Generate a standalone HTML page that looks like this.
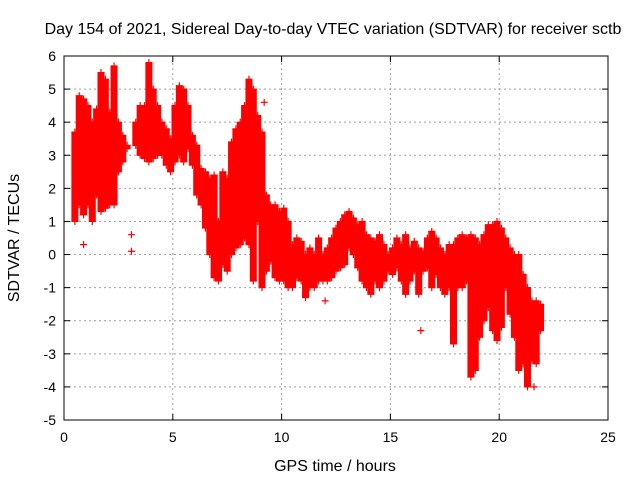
<!DOCTYPE html>
<html><head><meta charset="utf-8"><style>
body{margin:0;background:#fff}
svg text{font-family:"Liberation Sans",sans-serif;font-size:14px;fill:#000}
svg text.big{font-size:16px}
</style></head><body>
<svg id="chart" width="640" height="480" viewBox="0 0 640 480" xmlns="http://www.w3.org/2000/svg">
<text class="big" x="333" y="34" text-anchor="middle">Day 154 of 2021, Sidereal Day-to-day VTEC variation (SDTVAR) for receiver sctb</text>
<text class="big" x="335" y="471" text-anchor="middle">GPS time / hours</text>
<text class="big" transform="translate(19,238) rotate(-90)" text-anchor="middle">SDTVAR / TECUs</text>
<g id="grid"></g>
<g id="marks"></g>
<g id="axes"></g>
</svg>
<script>
const xTicks=[0,5,10,15,20,25];
const yTicks=[-5,-4,-3,-2,-1,0,1,2,3,4,5,6];
const hours=[0.5,0.7,0.9,1.1,1.3,1.5,1.7,1.9,2.1,2.3,2.5,2.7,2.9,3.3,3.5,3.7,3.9,4.1,4.3,4.5,4.7,4.9,5.1,5.3,5.5,5.7,5.9,6.1,6.3,6.5,6.7,6.9,7.1,7.3,7.5,7.7,7.9,8.1,8.3,8.5,8.7,8.9,9.1,9.3,9.5,9.7,9.9,10.1,10.3,10.5,10.7,10.9,11.1,11.3,11.5,11.7,11.9,12.1,12.3,12.5,12.7,12.9,13.1,13.3,13.5,13.7,13.9,14.1,14.3,14.5,14.7,14.9,15.1,15.3,15.5,15.7,15.9,16.1,16.3,16.5,16.7,16.9,17.1,17.3,17.5,17.7,17.9,18.1,18.3,18.5,18.7,18.9,19.1,19.3,19.5,19.7,19.9,20.1,20.3,20.5,20.7,20.9,21.1,21.3,21.5,21.7,21.9];
const lowVals=[1.0,1.5,1.2,1.5,1.0,1.8,1.3,1.4,1.5,1.5,2.5,2.8,3.2,3.3,3.0,2.9,2.8,2.9,3.0,3.0,2.7,2.5,2.8,3.0,2.8,3.2,2.7,1.8,1.5,0.8,0.0,-0.7,-0.8,-0.3,-0.5,0.0,0.2,0.3,0.5,0.3,-0.8,1.0,-1.0,-0.5,-0.2,-0.7,-0.8,-0.8,-1.0,-1.0,-0.7,-0.8,-1.3,-1.0,-1.0,-0.8,-0.8,-0.8,-0.7,-0.5,-0.4,-0.3,0.2,0.0,-0.4,-0.8,-1.0,-1.2,-0.8,-1.0,-0.8,-0.5,-0.6,-0.4,-0.8,-1.2,-0.8,-0.5,-1.2,-0.5,-0.4,-1.0,-0.6,-1.0,-1.2,-1.0,-2.7,-1.0,-1.0,-0.8,-3.7,-3.5,-2.5,-2.0,-1.6,-2.3,-2.6,-2.2,-1.0,-1.8,-2.5,-3.5,-3.3,-4.0,-3.2,-3.3,-2.3];
const highVals=[3.7,4.8,4.7,4.5,4.0,4.4,5.5,5.3,4.3,5.7,4.0,3.6,3.3,4.0,4.5,4.5,5.8,5.0,4.5,4.0,3.8,3.5,4.5,5.1,5.0,4.5,3.6,3.3,2.6,2.5,2.3,2.4,1.0,2.5,2.3,3.4,3.8,4.0,4.5,5.3,5.0,4.2,3.7,1.8,1.5,1.5,1.3,1.4,1.0,0.3,0.5,0.4,0.0,0.2,0.0,0.5,0.0,0.2,0.5,0.8,1.0,1.2,1.3,1.1,0.9,1.0,0.6,0.5,0.4,0.6,0.3,0.0,0.2,0.5,0.3,0.6,0.2,0.4,0.2,0.1,0.5,0.7,0.5,0.2,0.0,0.3,0.3,0.5,0.6,0.5,0.6,0.5,0.3,0.6,0.9,0.9,1.0,0.8,0.5,0.2,0.0,0.0,-0.6,-1.0,-1.4,-1.4,-1.5];
const outlierHours=[0.9,3.1,3.1,9.2,16.4,12.0,21.6];
const outlierVals=[0.3,0.1,0.6,4.6,-2.3,-1.4,-4.0];

const X0=64,X1=608,Y0=420,Y1=56;
const xs=v=>X0+(v-0)/(25-0)*(X1-X0);
const ys=v=>Y0-(v+5)/(11)*(Y0-Y1);
const NS="http://www.w3.org/2000/svg";
function mk(tag,attrs,parent){const e=document.createElementNS(NS,tag);for(const k in attrs)e.setAttribute(k,attrs[k]);parent.appendChild(e);return e;}
const grid=document.getElementById('grid'),marks=document.getElementById('marks'),axes=document.getElementById('axes');
xTicks.forEach(t=>{
  if(t>0&&t<25){const l=mk('line',{x1:xs(t),x2:xs(t),y1:Y0,y2:Y1,stroke:'#a0a0a0','stroke-dasharray':'2,3'},grid);
  
  }
  mk('line',{x1:xs(t),x2:xs(t),y1:Y0,y2:Y0-6,stroke:'#000'},axes);
  mk('line',{x1:xs(t),x2:xs(t),y1:Y1,y2:Y1+6,stroke:'#000'},axes);
  const tx=mk('text',{x:xs(t),y:Y0+22,'text-anchor':'middle'},axes);tx.textContent=t;
  
  
});
yTicks.forEach(t=>{
  if(t>-5&&t<6){const l=mk('line',{x1:X0,x2:X1,y1:ys(t),y2:ys(t),stroke:'#a0a0a0','stroke-dasharray':'2,3'},grid);
  
  }
  mk('line',{x1:X0,x2:X0+6,y1:ys(t),y2:ys(t),stroke:'#000'},axes);
  mk('line',{x1:X1,x2:X1-6,y1:ys(t),y2:ys(t),stroke:'#000'},axes);
  const tx=mk('text',{x:X0-8,y:ys(t)+5,'text-anchor':'end'},axes);tx.textContent=t;
  
  
});
const border=mk('rect',{x:X0,y:Y1,width:X1-X0,height:Y0-Y1,fill:'none',stroke:'#000'},axes);


function plus(x,y){mk('path',{d:`M${x-3.5} ${y}h7M${x} ${y-3.5}v7`,stroke:'#f00','stroke-width':1.2,fill:'none'},marks);}
hours.forEach((h,i)=>{
  const x=xs(h),yl=ys(lowVals[i]),yh=ys(highVals[i]);
  const r=mk('rect',{x:x-3.5,y:yh,width:7,height:Math.max(1,yl-yh),fill:'#f00'},marks);
  
  
  plus(x,yl);plus(x,yh);
});
outlierHours.forEach((h,i)=>plus(xs(h),ys(outlierVals[i])));
</script>
</body></html>
